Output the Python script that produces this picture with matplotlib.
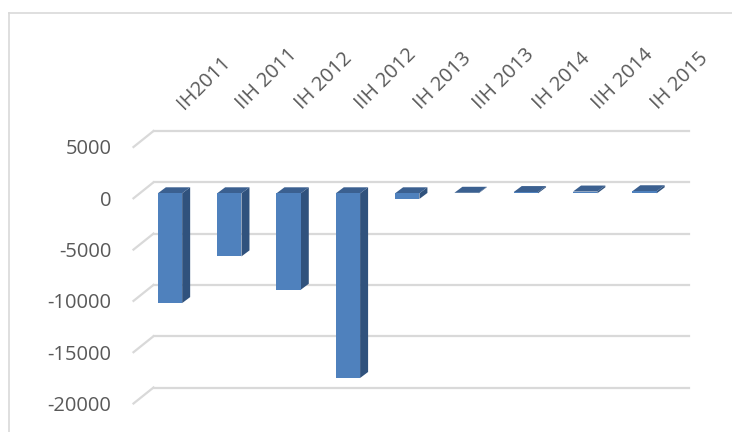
import numpy as np
import matplotlib
matplotlib.use("Agg")
import matplotlib.pyplot as plt
from matplotlib.patches import Polygon
from matplotlib.lines import Line2D
from matplotlib.transforms import ScaledTranslation, blended_transform_factory

plt.rcParams['font.family'] = ['Open Sans', 'DejaVu Sans']

periods = ["IH2011", "IIH 2011", "IH 2012", "IIH 2012", "IH 2013",
           "IIH 2013", "IH 2014", "IIH 2014", "IH 2015"]
values = [-10700, -6150, -9400, -18000, -550, 50, 120, 170, 200]
yticks = [5000, 0, -5000, -10000, -15000, -20000]

front_col = "#4F81BD"
top_col = "#3B6090"
side_col = "#30527D"
grid_col = "#D9D9D9"
text_col = "#595959"

W, H = 732, 432
fig = plt.figure(figsize=(W / 100, H / 100), dpi=100)

# axes = front plane of the 3d box (pixel layout)
left, right = 133.5, 668.5
top, bottom = 147, 403.5
ax = fig.add_axes([left / W, 1 - bottom / H, (right - left) / W, (bottom - top) / H])
ax.set_xlim(-0.51, 8.51)
ax.set_ylim(-20000, 5000)
for s in ax.spines.values():
    s.set_visible(False)
ax.set_xticks([])
ax.set_yticks(yticks)
ax.set_yticklabels([str(t) for t in yticks])
ax.tick_params(axis='y', length=0, pad=16, labelsize=14.5, labelcolor=text_col)
ax.patch.set_alpha(0)


def shifted(x, y, dx, dy):
    # move a data point by dx, dy pixels (depth of the 3d view)
    X, Y = ax.transData.transform((x, y))
    return ax.transData.inverted().transform((X + dx, Y + dy))


wall = (20, 16)
x0, x1 = ax.get_xlim()
for t in yticks:
    bl = shifted(x0, t, *wall)
    br = shifted(x1, t, *wall)
    ax.add_line(Line2D([x0, bl[0]], [t, bl[1]], color=grid_col, lw=1.6,
                       clip_on=False, zorder=1))
    ax.add_line(Line2D([bl[0], br[0]], [bl[1], br[1]], color=grid_col, lw=1.6,
                       clip_on=False, zorder=1))

# bars
w = 0.41
f = (6.25, 5)
b = (14.25, 11)
x = np.arange(len(values))
for xi, v in zip(x, values):
    lo, hi = min(0, v), max(0, v)
    xl, xr = xi - w / 2, xi + w / 2
    front = [shifted(xl, lo, *f), shifted(xr, lo, *f),
             shifted(xr, hi, *f), shifted(xl, hi, *f)]
    topf = [shifted(xl, hi, *f), shifted(xr, hi, *f),
            shifted(xr, hi, *b), shifted(xl, hi, *b)]
    side = [shifted(xr, lo, *f), shifted(xr, hi, *f),
            shifted(xr, hi, *b), shifted(xr, lo, *b)]
    ax.add_patch(Polygon(side, closed=True, fc=side_col, ec='none', clip_on=False, zorder=3))
    ax.add_patch(Polygon(topf, closed=True, fc=top_col, ec='none', clip_on=False, zorder=3))
    ax.add_patch(Polygon(front, closed=True, fc=front_col, ec='none', clip_on=False, zorder=4))

# category labels on top, rotated
lab_tr = blended_transform_factory(ax.transData, fig.transFigure) + \
    ScaledTranslation(0.20, 0, fig.dpi_scale_trans)
for xi, lab in zip(x, periods):
    ax.text(xi, 1 - 110 / H, lab, transform=lab_tr, rotation=45,
            rotation_mode='anchor', ha='left', va='baseline',
            fontsize=14.5, color=text_col)

# chart area border
fig.add_artist(Line2D([9 / W, 9 / W], [0, 1 - 13 / H], color=grid_col, lw=1.2))
fig.add_artist(Line2D([9 / W, 1], [1 - 13 / H, 1 - 13 / H], color=grid_col, lw=1.2))

fig.savefig("out.png", dpi=100)
